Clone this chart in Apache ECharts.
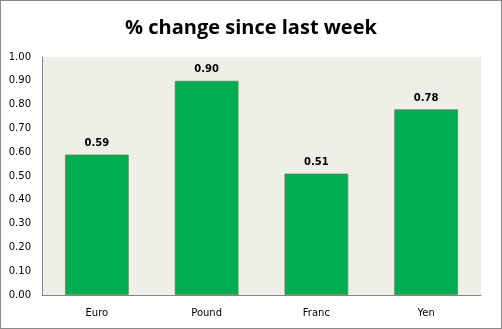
<!DOCTYPE html>
<html>
<head>
<meta charset="utf-8">
<script src="https://cdn.jsdelivr.net/npm/echarts@6/dist/echarts.min.js"></script>
<style>
  html, body { margin: 0; padding: 0; background: #fff; }
  #chart { width: 502px; height: 329px; box-sizing: border-box; border: 1px solid #8a8a8a; }
</style>
</head>
<body>
<div id="chart"></div>
<script>
const categories = ['Euro', 'Pound', 'Franc', 'Yen'];
const changes = [0.59, 0.90, 0.51, 0.78];
const yTicks = { min: 0, max: 1, step: 0.1 };

const chart = echarts.init(document.getElementById('chart'), null, { renderer: 'canvas' });
chart.setOption({
  animation: false,
  title: {
    text: '% change since last week',
    left: 'center',
    top: 12,
    textStyle: { fontFamily: 'Open Sans', fontWeight: 'bold', fontSize: 20, color: '#000' }
  },
  grid: {
    left: 41, right: 20, top: 56, bottom: 33,
    show: true, backgroundColor: '#EEF0E7', borderWidth: 0
  },
  xAxis: {
    type: 'category',
    data: categories,
    axisLine: { lineStyle: { color: '#868686', width: 1 } },
    axisTick: { show: false },
    axisLabel: { fontFamily: 'DejaVu Sans', fontSize: 10, color: '#000', margin: 13 }
  },
  yAxis: {
    type: 'value',
    min: yTicks.min, max: yTicks.max, interval: yTicks.step,
    axisLine: { show: true, lineStyle: { color: '#868686', width: 1 } },
    axisTick: { show: false },
    splitLine: { show: false },
    axisLabel: {
      fontFamily: 'DejaVu Sans', fontSize: 10, color: '#000', margin: 11,
      formatter: v => v.toFixed(2)
    }
  },
  series: [{
    type: 'bar',
    data: changes,
    barWidth: '58%',
    itemStyle: { color: '#00AD50', borderColor: '#5c8a5c', borderWidth: 0.8 },
    label: {
      show: true, position: 'top', distance: 6,
      fontFamily: 'DejaVu Sans', fontWeight: 'bold', fontSize: 10, color: '#000',
      formatter: p => p.value.toFixed(2)
    }
  }]
});
</script>
</body>
</html>
